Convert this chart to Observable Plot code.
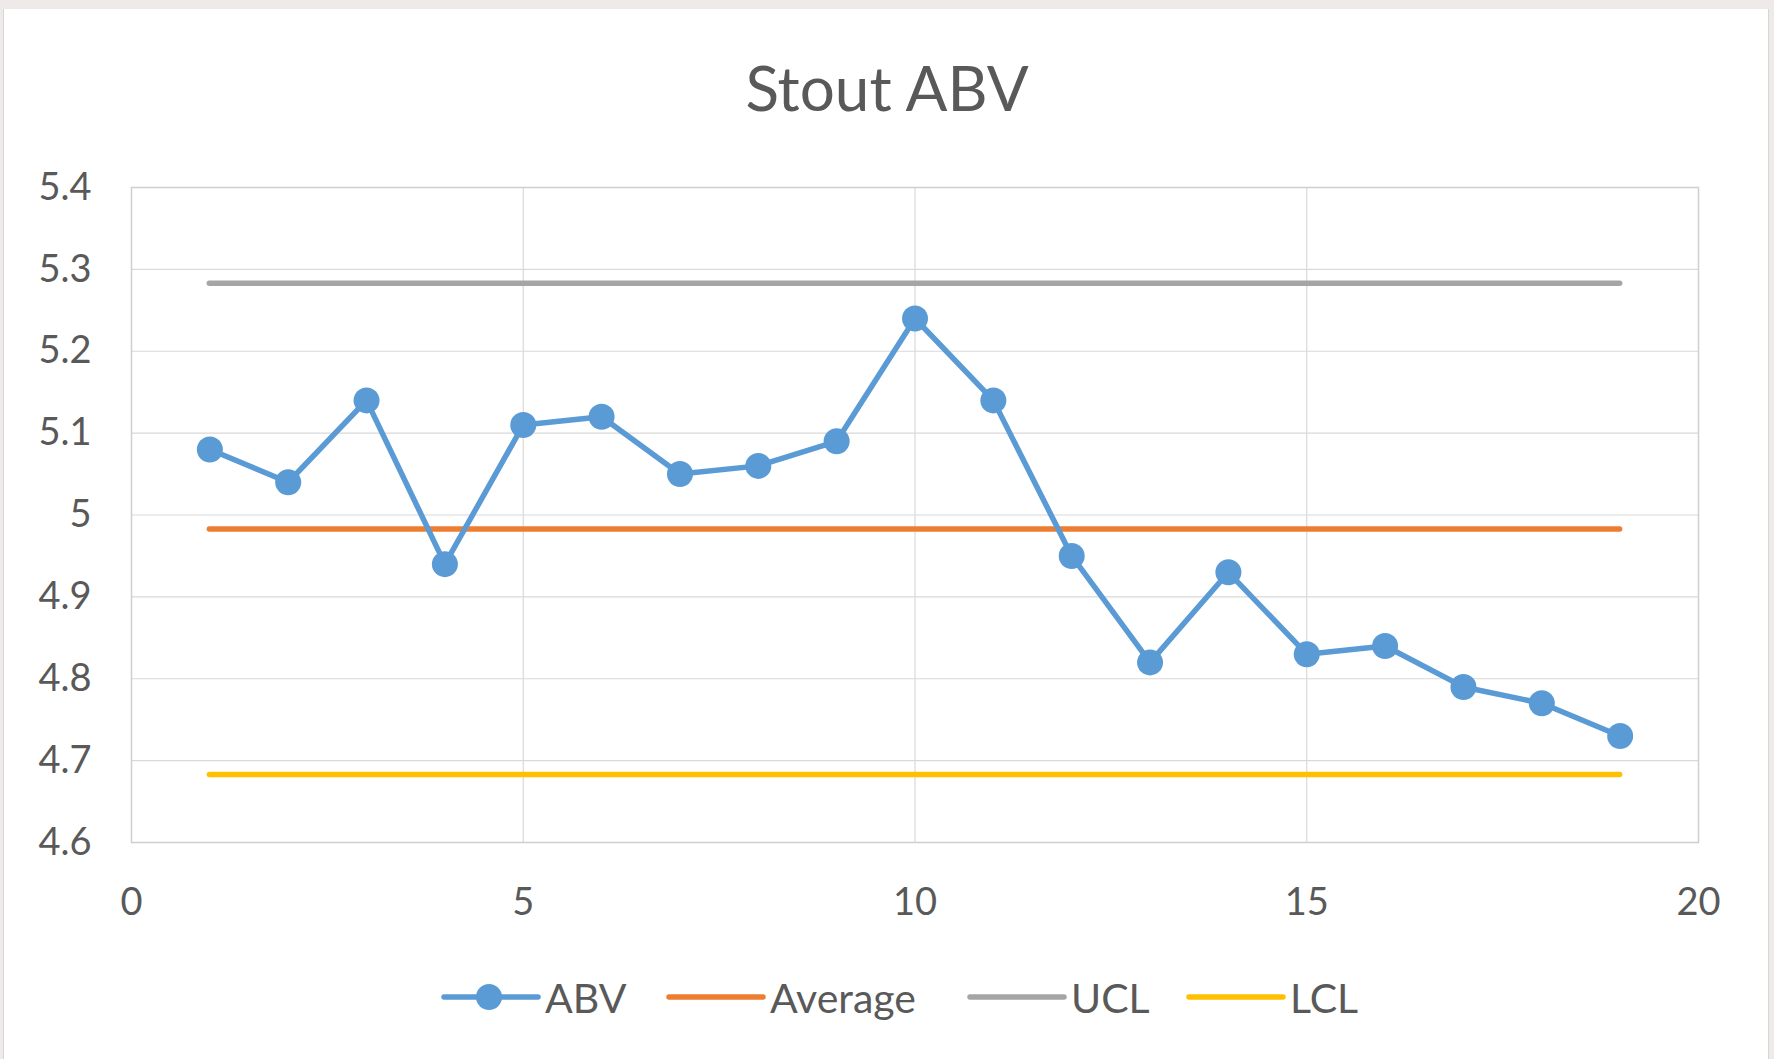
<!DOCTYPE html>
<html>
<head>
<meta charset="utf-8">
<script src="https://cdn.jsdelivr.net/npm/d3@7"></script>
<script src="https://cdn.jsdelivr.net/npm/@observablehq/plot@0.6"></script>
<style>
  html, body { margin: 0; padding: 0; }
  body { width: 1774px; height: 1059px; background: #efeaea; position: relative; overflow: hidden; font-family: Lato, "Open Sans", sans-serif; }
  #card { position: absolute; left: 3px; top: 9px; width: 1764px; height: 1050px; background: #fff; border-left: 1px solid #d6d6d6; border-right: 1px solid #d6d6d6; }
  #title { position: absolute; left: 0; top: 52px; width: 1774px; text-align: center; font-size: 62px; color: #595959; line-height: 70px; }
  #chart { position: absolute; left: 0; top: 140px; }
  #legend { position: absolute; left: 0; top: 965px; width: 1774px; height: 64px; }
  .item { position: absolute; top: 0; height: 64px; display: flex; align-items: center; font-size: 41px; color: #595959; }
  .item svg { margin-right: 4px; }
</style>
</head>
<body>
<div id="card"></div>
<div id="title">Stout ABV</div>
<div id="chart"></div>
<div id="legend"></div>
<script>
// Data
const sample = [1, 2, 3, 4, 5, 6, 7, 8, 9, 10, 11, 12, 13, 14, 15, 16, 17, 18, 19];
const abv = [5.08, 5.04, 5.14, 4.94, 5.11, 5.12, 5.05, 5.06, 5.09, 5.24, 5.14, 4.95, 4.82, 4.93, 4.83, 4.84, 4.79, 4.77, 4.73];
const limitNames = ["Average", "UCL", "LCL"];
const limitValues = [4.983, 5.283, 4.683];
const seriesNames = ["ABV", "Average", "UCL", "LCL"];
const seriesColors = ["#5B9BD5", "#ED7D31", "#A5A5A5", "#FFC000"];
const xTicks = [0, 5, 10, 15, 20];
const yTicks = [4.6, 4.7, 4.8, 4.9, 5.0, 5.1, 5.2, 5.3, 5.4];

const points = sample.map((s, i) => ({sample: s, abv: abv[i]}));
const limits = limitNames.map((n, i) => ({name: n, value: limitValues[i], x1: d3.min(sample), x2: d3.max(sample)}));
const colorOf = n => seriesColors[seriesNames.indexOf(n)];

const chart = Plot.plot({
  width: 1774,
  height: 800,
  marginLeft: 131,
  marginRight: 76,
  marginTop: 47,
  marginBottom: 98,
  style: {fontFamily: "Lato, 'Open Sans', sans-serif", fontSize: "38px", color: "#595959", background: "transparent"},
  x: {domain: [0, 20], ticks: xTicks, tickSize: 0, tickPadding: 46, label: null},
  y: {domain: [4.6, 5.4], ticks: yTicks, tickSize: 0, tickPadding: 40, label: null,
      tickFormat: d => String(+d.toFixed(1))},
  marks: [
    Plot.gridX([5, 10, 15], {stroke: "#d9d9d9", strokeOpacity: 1, strokeWidth: 1.2}),
    Plot.gridY(yTicks, {stroke: "#d9d9d9", strokeOpacity: 1, strokeWidth: 1.2}),
    Plot.frame({stroke: "#cfcfcf", strokeWidth: 1.5}),
    Plot.ruleY(limits, {y: "value", x1: "x1", x2: "x2", stroke: d => colorOf(d.name), strokeWidth: 5.5, strokeLinecap: "round"}),
    Plot.line(points, {x: "sample", y: "abv", stroke: colorOf("ABV"), strokeWidth: 5.5, strokeLinejoin: "round"}),
    Plot.dot(points, {x: "sample", y: "abv", r: 13, fill: colorOf("ABV"), stroke: "none"})
  ]
});
document.getElementById("chart").appendChild(chart);

// Legend
const legendX = [441, 666, 967, 1186];
const legend = document.getElementById("legend");
seriesNames.forEach((name, i) => {
  const item = document.createElement("div");
  item.className = "item";
  item.style.left = legendX[i] + "px";
  const ns = "http://www.w3.org/2000/svg";
  const svg = document.createElementNS(ns, "svg");
  svg.setAttribute("width", 100);
  svg.setAttribute("height", 30);
  const line = document.createElementNS(ns, "line");
  line.setAttribute("x1", 3); line.setAttribute("x2", 97);
  line.setAttribute("y1", 15); line.setAttribute("y2", 15);
  line.setAttribute("stroke", seriesColors[i]);
  line.setAttribute("stroke-width", 5.5);
  line.setAttribute("stroke-linecap", "round");
  svg.appendChild(line);
  if (name === "ABV") {
    const c = document.createElementNS(ns, "circle");
    c.setAttribute("cx", 48); c.setAttribute("cy", 15); c.setAttribute("r", 13);
    c.setAttribute("fill", seriesColors[i]);
    svg.appendChild(c);
  }
  item.appendChild(svg);
  const label = document.createElement("span");
  label.textContent = name;
  item.appendChild(label);
  legend.appendChild(item);
});
</script>
</body>
</html>
